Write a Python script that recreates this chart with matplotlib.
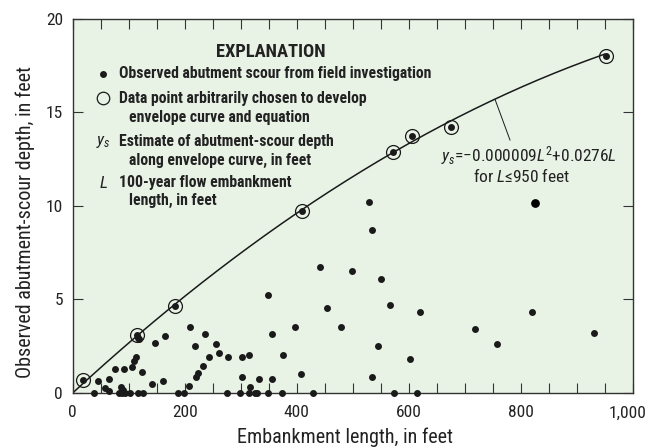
import matplotlib.pyplot as plt
import matplotlib.transforms as mtrans
import numpy as np
from matplotlib.ticker import MultipleLocator

plt.rcParams['font.family'] = ['Roboto Condensed', 'DejaVu Sans']
plt.rcParams['mathtext.fontset'] = 'custom'
plt.rcParams['mathtext.it'] = 'Roboto Condensed:italic'
plt.rcParams['mathtext.rm'] = 'Roboto Condensed'

# Observed abutment scour (embankment length, scour depth), feet
obs_length = [38, 46, 57, 65, 65, 76, 82, 86, 88, 90, 92, 93, 102, 106, 110, 113,
              116, 117, 119, 123, 125, 142, 147, 161, 164, 188, 198, 207, 210, 218,
              220, 224, 232, 236, 243, 256, 262, 276, 278, 299, 302, 302, 314, 314,
              317, 326, 330, 333, 348, 349, 356, 356, 374, 376, 397, 408, 430, 442,
              454, 479, 498, 529, 535, 535, 546, 550, 566, 574, 602, 615, 620, 718,
              757, 820, 930]
obs_depth = [0.0, 0.66, 0.25, 0.75, 0.12, 1.27, 0.0, 0.3, 0.0, 0.16, 1.27, 0.0, 0.0,
             1.41, 1.71, 1.94, 0.0, 2.92, 2.87, 1.14, 0.0, 0.48, 2.65, 0.66, 3.04, 0.0,
             0.0, 0.37, 3.54, 2.53, 0.84, 1.05, 1.44, 3.13, 1.92, 2.62, 2.12, 0.0,
             1.92, 0.0, 1.92, 0.84, 2.03, 0.0, 0.34, 0.0, 0.0, 0.73, 5.23, 0.0, 3.13,
             0.73, 0.0, 2.03, 3.51, 1.04, 0.0, 6.71, 4.52, 3.53, 6.52, 10.2, 8.7, 0.85,
             2.53, 6.11, 4.72, 0.0, 1.82, 0.0, 4.31, 3.42, 2.62, 4.33, 3.22]

# Highlighted observation
big_length = [825]
big_depth = [10.17]

# Points chosen to develop the envelope curve
env_length = [19, 114, 183, 409, 572, 606, 675, 952]
env_depth = [0.7, 3.1, 4.65, 9.72, 12.89, 13.73, 14.19, 18.0]

# Envelope curve  ys = a*L^2 + b*L  for L <= 950
coef_a = -0.000009
coef_b = 0.0276
curve_max = 950

x_ticks = [0, 200, 400, 600, 800, 1000]
x_tick_labels = ['0', '200', '400', '600', '800', '1,000']
y_ticks = [0, 5, 10, 15, 20]

ink = '#222222'

fig = plt.figure(figsize=(6.5, 4.48), dpi=100)
ax = fig.add_axes([0.1118, 0.1228, 0.8616, 0.8359])
ax.set_facecolor('#e8f3e6')

L = np.linspace(0, curve_max, 200)
ax.plot(L, coef_a * L**2 + coef_b * L, color='#1a1a1a', lw=1.1, zorder=2)

ax.plot(obs_length, obs_depth, 'o', color='#1a1a1a', ms=5, mec='none', clip_on=False, zorder=3)
ax.plot(big_length, big_depth, 'o', color='black', ms=6.3, mec='none', zorder=3)
ax.plot(env_length, env_depth, 'o', color='#1a1a1a', ms=5, mec='none', zorder=3)
ax.plot(env_length, env_depth, 'o', mfc='none', mec='#1a1a1a', ms=10, mew=0.9, zorder=3)

# leader line from curve to equation
lead_L = 754
ax.annotate('', xy=(lead_L, coef_a * lead_L**2 + coef_b * lead_L), xytext=(781, 13.5),
            arrowprops=dict(arrowstyle='-', color='#1a1a1a', lw=0.7, shrinkA=0, shrinkB=0))
ax.text(815, 12.66, r'$y_s$=−0.000009$L^2$+0.0276$L$', ha='center', va='center',
        fontsize=12.5, color=ink)
ax.text(802, 11.6, r'for $L$≤950 feet', ha='center', va='center',
        fontsize=12.5, color=ink)

# Explanation block
ax.text(0.354, 0.911, 'EXPLANATION', transform=ax.transAxes, ha='center', va='center',
        fontsize=13.3, fontweight='bold', color=ink)
sym_x = 0.0546
rows = [(0.0832, 0.852, 'Observed abutment scour from field investigation'),
        (0.0832, 0.787, 'Data point arbitrarily chosen to develop'),
        (0.101, 0.736, 'envelope curve and equation'),
        (0.0832, 0.671, 'Estimate of abutment-scour depth'),
        (0.101, 0.622, 'along envelope curve, in feet'),
        (0.0832, 0.5615, '100-year flow embankment'),
        (0.101, 0.5135, 'length, in feet')]
for xx, yy, s in rows:
    ax.text(xx, yy, s, transform=ax.transAxes, ha='left', va='center',
            fontsize=11.3, fontweight='bold', color=ink)
ax.plot([sym_x], [0.852], 'o', transform=ax.transAxes, color='#1a1a1a', ms=5, mec='none')
ax.plot([sym_x], [0.787], 'o', transform=ax.transAxes, mfc='none', mec='#1a1a1a', ms=9, mew=0.9)
ax.text(sym_x, 0.671, r'$y_s$', transform=ax.transAxes, ha='center', va='center',
        fontsize=12.5, color=ink)
ax.text(sym_x, 0.5615, r'$L$', transform=ax.transAxes, ha='center', va='center',
        fontsize=12.5, color=ink)

ax.set_xlim(0, 1000)
ax.set_ylim(0, 20)
ax.set_xticks(x_ticks)
xlabels = ax.set_xticklabels(x_tick_labels)
ax.xaxis.set_minor_locator(MultipleLocator(50))
ax.set_yticks(y_ticks)
ax.tick_params(which='both', direction='in', top=True, right=True, length=7,
               width=0.8, color='#333333', labelsize=12.5, labelcolor=ink)
ax.tick_params(axis='x', pad=9)
ax.tick_params(axis='y', pad=7)
for sp in ax.spines.values():
    sp.set_color('#333333')
    sp.set_linewidth(1.0)

# keep "1,000" inside the figure: right-align it just short of the edge
xlabels[-1].set_horizontalalignment('right')
xlabels[-1].set_transform(xlabels[-1].get_transform()
                          + mtrans.ScaledTranslation(0.14, 0, fig.dpi_scale_trans))

ax.set_xlabel('Embankment length, in feet', fontsize=14.5, color=ink)
ax.set_ylabel('Observed abutment-scour depth, in feet', fontsize=14.5, color=ink)
ax.xaxis.set_label_coords(0.487, -0.093)
ax.yaxis.set_label_coords(-0.068, 0.457)

fig.savefig('out.png', dpi=100)
